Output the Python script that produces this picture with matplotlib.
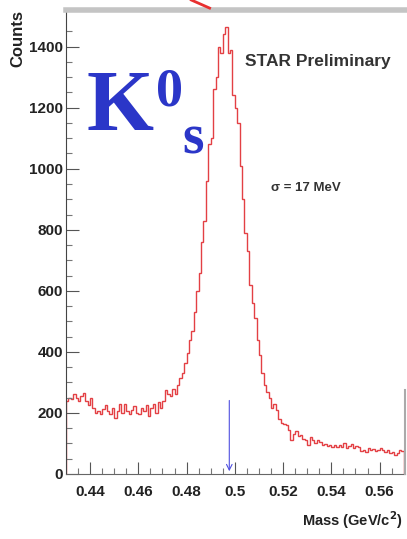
import matplotlib
matplotlib.use("Agg")
import matplotlib.pyplot as plt
import numpy as np
from matplotlib.lines import Line2D

# K0s invariant mass histogram, 1 MeV bins from 0.430 to 0.570 GeV/c^2
mass_lo = 0.430
bin_w = 0.001
counts = [
    240, 250, 245, 262, 250, 238, 255, 265, 240, 225,   # 0.430
    250, 215, 200, 205, 198, 212, 225, 205, 195, 215,   # 0.440
    185, 205, 230, 200, 228, 205, 195, 210, 222, 200,   # 0.450
    196, 215, 205, 225, 190, 215, 230, 200, 235, 215,   # 0.460
    240, 275, 262, 255, 280, 262, 290, 315, 330, 365,   # 0.470
    395, 440, 470, 530, 600, 660, 760, 830, 960, 1080,  # 0.480
    1100, 1260, 1300, 1400, 1380, 1440, 1465, 1380, 1390, 1240,  # 0.490
    1200, 1150, 1010, 900, 790, 730, 620, 560, 510, 440,  # 0.500
    390, 330, 290, 270, 250, 215, 228, 210, 180, 168,   # 0.510
    165, 160, 145, 112, 130, 140, 125, 128, 115, 110,   # 0.520
    95, 120, 110, 100, 112, 105, 95, 98, 92, 95,        # 0.530
    90, 95, 88, 96, 90, 100, 85, 92, 98, 85,            # 0.540
    92, 88, 75, 80, 72, 85, 78, 82, 75, 80,             # 0.550
    84, 78, 72, 80, 70, 72, 62, 68, 78, 74,             # 0.560
]
edges = mass_lo + bin_w * np.arange(len(counts) + 1)

k0_mass = 0.4977
marker_height = 250

xticks = [0.44, 0.46, 0.48, 0.5, 0.52, 0.54, 0.56]
xticklabels = ["0.44", "0.46", "0.48", "0.5", "0.52", "0.54", "0.56"]
yticks = [0, 200, 400, 600, 800, 1000, 1200, 1400]

plt.rcParams['font.family'] = ['Liberation Sans', 'DejaVu Sans']

fig = plt.figure(figsize=(4.07, 5.39), dpi=100)
ax = fig.add_axes([0.162, 0.1206, 0.833, 0.8608])

ax.stairs(counts, edges, baseline=0, color='#e34044', lw=1.0)
ax.annotate('', xy=(k0_mass, 0), xytext=(k0_mass, marker_height),
            arrowprops=dict(arrowstyle='->', color='#5050e0', lw=0.8))

ax.set_xlim(0.43, 0.5705)
ax.set_ylim(0, 1520)
ax.set_xticks(xticks)
ax.set_xticklabels(xticklabels)
ax.set_yticks(yticks)
ax.set_xticks(np.arange(0.435, 0.57, 0.005), minor=True)
ax.set_yticks(np.arange(0, 1500, 50), minor=True)

ax.tick_params(axis='both', which='major', direction='in', length=9, width=0.8,
               color='#555555', labelsize=11)
ax.tick_params(axis='both', which='minor', direction='in', length=4.5, width=0.8,
               color='#777777')
ax.tick_params(axis='x', pad=8)
ax.tick_params(axis='y', pad=2)
for lab in ax.get_xticklabels() + ax.get_yticklabels():
    lab.set_fontweight('bold')
    lab.set_color('#222222')

ax.spines['left'].set_color('#444444')
ax.spines['bottom'].set_color('#666666')
ax.spines['top'].set_color('#c4c4c4')
ax.spines['top'].set_linewidth(4)
ax.spines['right'].set_visible(False)

fig.text(0.99, 0.035, r"Mass (GeV/c$^{\mathbf{2}}$)", ha='right', va='center',
         fontsize=10.5, fontweight='bold', color='#222222')
fig.text(0.043, 0.982, "Counts", rotation=90, ha='center', va='top',
         fontsize=12, fontweight='bold', color='#222222')

ax.text(0.957, 0.89, "STAR Preliminary", transform=ax.transAxes, ha='right',
        va='center', fontsize=12.5, fontweight='bold', color='#333333')
ax.text(0.605, 0.617, "σ = 17 MeV", transform=ax.transAxes, ha='left',
        va='center', fontsize=9.5, fontweight='bold', color='#333333')

# K0s label
kcol = '#2b36c8'
fig.text(0.213, 0.759, "K", fontsize=62, fontweight='bold', color=kcol,
         family='Liberation Serif', ha='left', va='baseline')
fig.text(0.384, 0.805, "0", fontsize=39, fontweight='bold', color=kcol,
         family='Liberation Serif', ha='left', va='baseline')
fig.text(0.448, 0.716, "s", fontsize=40, fontweight='bold', color=kcol,
         family='Liberation Serif', ha='left', va='baseline')

# red smear left over at the top edge, grey frame piece at the right edge
fig.add_artist(Line2D([0.47, 0.515], [1.0, 0.985], color='#e83030', lw=2))
fig.add_artist(Line2D([0.995, 0.995], [0.1206, 0.276], color='#aaaaaa', lw=1.5))

fig.savefig("out.png", dpi=100)
